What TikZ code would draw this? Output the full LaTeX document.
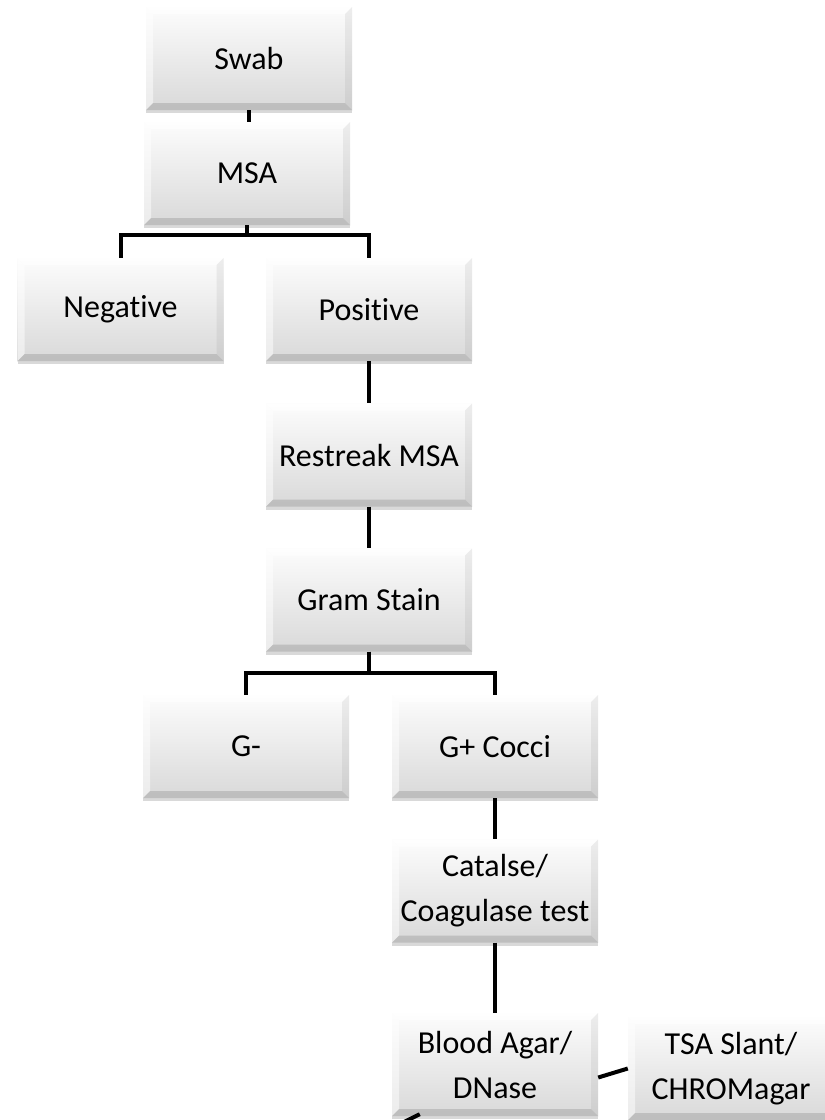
\documentclass[tikz,border=0pt]{standalone}
\usepackage{fontspec}
\setmainfont{Carlito}[RawFeature=-liga]
\usetikzlibrary{shadows}
\tikzset{
  box/.style={rectangle, minimum width=206pt, minimum height=103pt, inner sep=0pt,
    top color=gray!2, bottom color=gray!30, align=center,
    font=\fontsize{32}{45}\selectfont,
    drop shadow={shadow xshift=0pt, shadow yshift=-3pt, opacity=0.3, fill=gray},
    path picture={
      \fill[white,opacity=0.75] (path picture bounding box.north west) -- (path picture bounding box.north east)
        -- ([xshift=-7pt,yshift=-7pt]path picture bounding box.north east) -- ([xshift=7pt,yshift=-7pt]path picture bounding box.north west) -- cycle;
      \fill[white,opacity=0.5] (path picture bounding box.north west) -- ([xshift=7pt,yshift=-7pt]path picture bounding box.north west)
        -- ([xshift=7pt,yshift=7pt]path picture bounding box.south west) -- (path picture bounding box.south west) -- cycle;
      \fill[gray,opacity=0.3] (path picture bounding box.south west) -- (path picture bounding box.south east)
        -- ([xshift=-7pt,yshift=7pt]path picture bounding box.south east) -- ([xshift=7pt,yshift=7pt]path picture bounding box.south west) -- cycle;
      \fill[gray,opacity=0.12] (path picture bounding box.north east) -- ([xshift=-7pt,yshift=-7pt]path picture bounding box.north east)
        -- ([xshift=-7pt,yshift=7pt]path picture bounding box.south east) -- (path picture bounding box.south east) -- cycle;
    }},
  conn/.style={draw=black, line width=4pt, line join=miter}
}
\begin{document}
\begin{tikzpicture}[x=1pt,y=-1pt]
\useasboundingbox (0,0) rectangle (825,1120);
\clip (0,0) rectangle (825,1120);
\node[box] (swab) at (249,58.5) {Swab};
\node[box] (msa) at (247,173.5) {MSA};
\node[box] (neg) at (120.5,309.5) {Negative};
\node[box] (pos) at (369,309.5) {Positive};
\node[box] (restreak) at (369,455) {Restreak MSA};
\node[box] (gram) at (369,600) {Gram Stain};
\node[box] (gneg) at (246,746.5) {G-};
\node[box] (gpos) at (495,746.5) {G+ Cocci};
\node[box] (cat) at (495,891) {Catalse/\\Coagulase test};
\node[box] (blood) at (495,1064.5) {Blood Agar/\\DNase};
\node[box] (tsa) at (731,1068.5) {TSA Slant/\\CHROMagar};
\coordinate (off) at (400,1124);

\draw[conn] (swab.south) -- (swab.south |- msa.north);
\draw[conn] (msa.south) -- ++(0,10) -| (neg.north);
\draw[conn] (msa.south) -- ++(0,10) -| (pos.north);
\draw[conn] (pos.south) -- (restreak.north);
\draw[conn] (restreak.south) -- (gram.north);
\draw[conn] (gram.south) -- ++(0,21) -| (gneg.north);
\draw[conn] (gram.south) -- ++(0,21) -| (gpos.north);
\draw[conn] (gpos.south) -- (cat.north);
\draw[conn] (cat.south) -- (blood.north);
\draw[conn] ([yshift=-13pt]blood.east) -- (tsa.west);
\draw[conn] ([xshift=28pt,yshift=2pt]blood.south west) -- (off);
\end{tikzpicture}
\end{document}
